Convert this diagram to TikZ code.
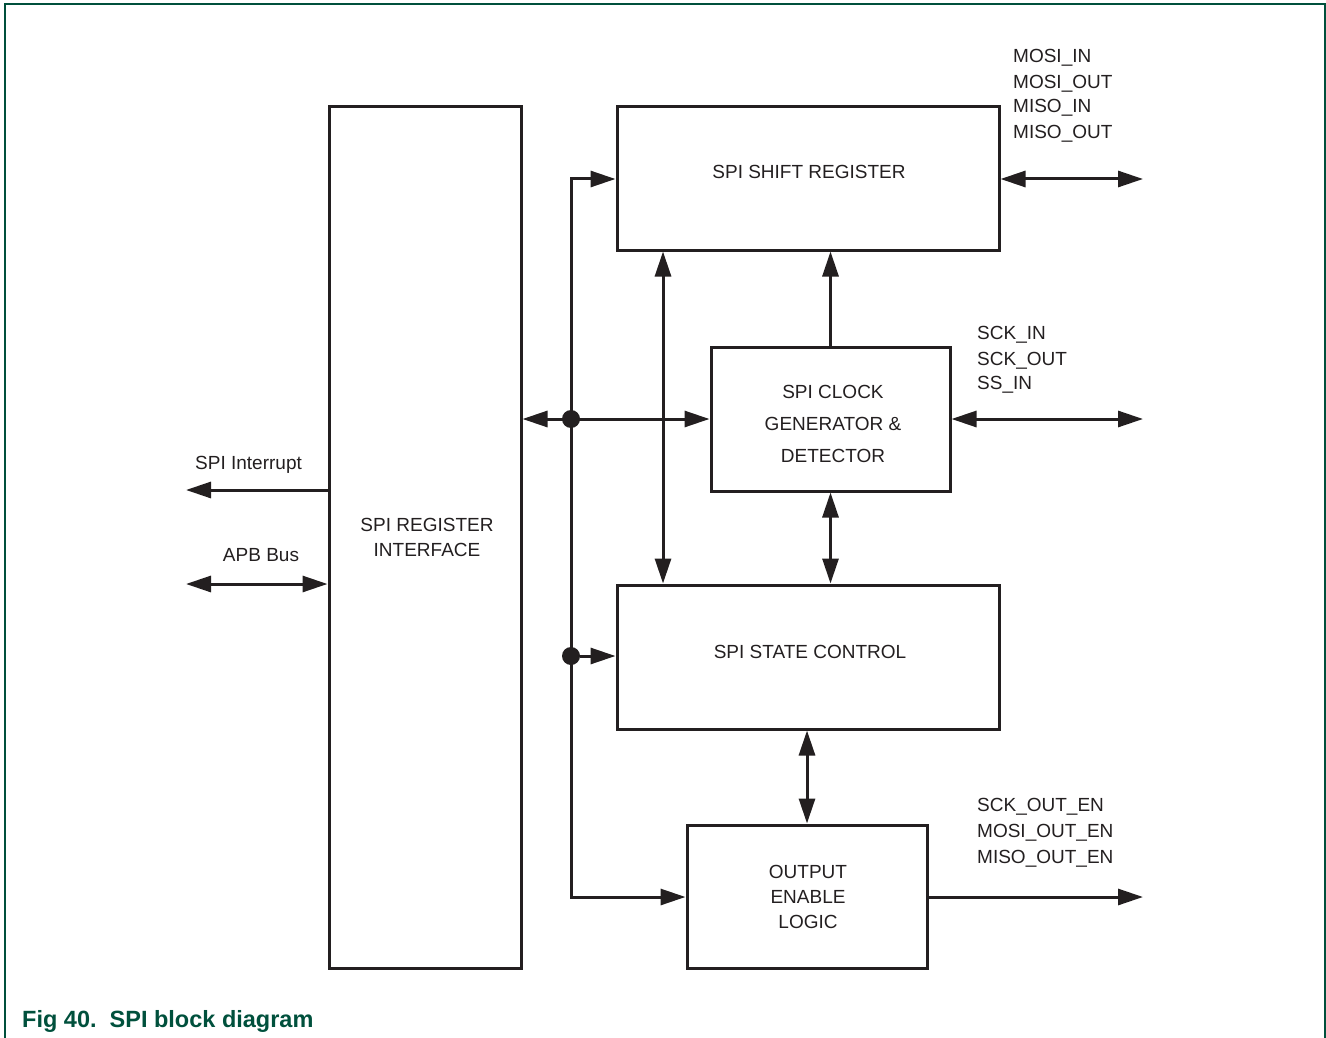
\documentclass[tikz,border=0pt]{standalone}
\usepackage{fontspec}
\setmainfont{Liberation Sans}
\usetikzlibrary{arrows.meta}
\definecolor{nxpgreen}{HTML}{00503C}
\definecolor{ink}{HTML}{231F20}
\tikzset{
  blk/.style={draw=ink, line width=3pt, inner sep=0pt, minimum width=#1},
  txt/.style={font=\fontsize{19}{25}\selectfont, text=ink, inner sep=0pt, align=center},
  lbl/.style={font=\fontsize{19}{25}\selectfont, text=ink, inner sep=0pt, anchor=base west},
  conn/.style={draw=ink, line width=3pt},
  tip/.style={-{Triangle[length=25pt,width=16pt]}},
  dtip/.style={{Triangle[length=25pt,width=16pt]}-{Triangle[length=25pt,width=16pt]}},
  jdot/.style={circle, fill=ink, inner sep=0pt, minimum size=18pt},
}
\begin{document}
\begin{tikzpicture}[x=1pt,y=-1pt]
\useasboundingbox (0,0) rectangle (1326,1038);
% frame
\draw[nxpgreen, line width=1.6pt] (5,1040) -- (5,4) -- (1325,4) -- (1325,1040);
% boxes
\node[blk=192pt, minimum height=861pt] (regif) at (425,537.5) {};
\node[blk=382pt, minimum height=143pt] (shift) at (808,178.5) {};
\node[blk=239pt, minimum height=144pt] (clock) at (830.5,419) {};
\node[blk=382pt, minimum height=144pt] (state) at (808,657) {};
\node[blk=240pt, minimum height=143pt] (oel) at (807,896.5) {};
% box texts
\node[txt] at (427,537) {SPI REGISTER\\INTERFACE};
\node[txt] at (809,172) {SPI SHIFT REGISTER};
\node[txt, font=\fontsize{19}{32}\selectfont] at (833,424) {SPI CLOCK\\GENERATOR \&\\DETECTOR};
\node[txt] at (810,652) {SPI STATE CONTROL};
\node[txt] at (808,897) {OUTPUT\\ENABLE\\LOGIC};
% bus
\coordinate (bt) at (571,179);
\coordinate (bb) at (571,897);
\coordinate (vx) at (663,0);
\draw[conn, dtip] (oel.west |- bb) -- (bb) -- (bt) -- (shift.west |- bt);
\node[jdot] (j1) at (571,419) {};
\node[jdot] (j2) at (571,656) {};
\draw[conn, dtip] (regif.east |- clock.west) -- (clock.west);
\draw[conn, tip] (j2) -- (state.west |- j2);
\draw[conn, dtip] (shift.south -| vx) -- (state.north -| vx);
\draw[conn, tip] (clock.north) -- (shift.south -| clock.north);
\draw[conn, dtip] (clock.south) -- (state.north -| clock.south);
\draw[conn, dtip] (oel.north) -- (state.south -| oel.north);
% right side
\coordinate (r1) at (1143,179);
\coordinate (r2) at (1143,419);
\coordinate (r3) at (1143,897);
\draw[conn, dtip] (shift.east |- r1) -- (r1);
\draw[conn, dtip] (clock.east |- r2) -- (r2);
\draw[conn, tip] (oel.east |- r3) -- (r3);
\node[lbl] at (1013,63) {MOSI\_IN};
\node[lbl] at (1013,89) {MOSI\_OUT};
\node[lbl] at (1013,113) {MISO\_IN};
\node[lbl] at (1013,139) {MISO\_OUT};
\node[lbl] at (977,339) {SCK\_IN};
\node[lbl] at (977,365) {SCK\_OUT};
\node[lbl] at (977,389) {SS\_IN};
\node[lbl] at (977,811) {SCK\_OUT\_EN};
\node[lbl] at (977,837) {MOSI\_OUT\_EN};
\node[lbl] at (977,863) {MISO\_OUT\_EN};
% left side
\coordinate (l1) at (186,490);
\coordinate (l2) at (186,584);
\draw[conn, tip] (regif.west |- l1) -- (l1);
\draw[conn, dtip] (l2) -- (regif.west |- l2);
\node[lbl] at (195,469) {SPI Interrupt};
\node[lbl, anchor=base] at (261,561) {APB Bus};
% caption
\node[lbl, font=\fontsize{23.5}{28}\selectfont\bfseries, text=nxpgreen] at (22,1027) {Fig 40.\ \ SPI block diagram};
\end{tikzpicture}
\end{document}
